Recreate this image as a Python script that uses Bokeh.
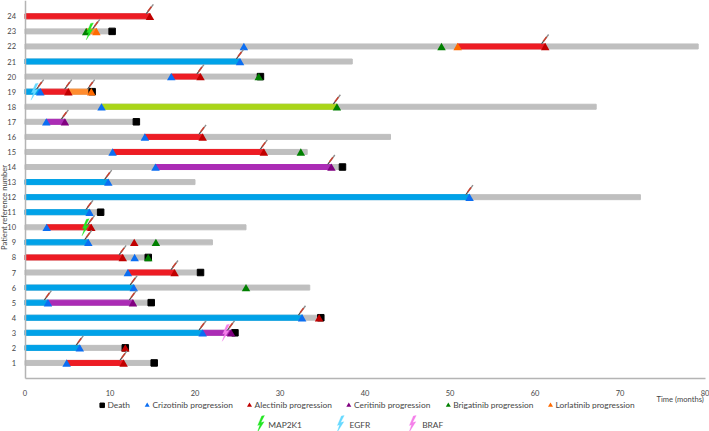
from bokeh.plotting import figure
from bokeh.embed import file_html
from bokeh.resources import INLINE
from bokeh.models import Range1d, FixedTicker
from bokeh.core.properties import value

# ---- data (months, patient number) ----
row_numbers = list(range(1, 25))
row_end = [15.2, 11.8, 24.7, 34.8, 14.85, 33.5, 20.65, 14.5, 22.05, 26.0, 8.9, 72.4,
           20.0, 37.35, 33.2, 43.0, 13.1, 67.2, 7.9, 27.7, 38.5, 79.2, 10.25, 14.7]

blue_rows = [2, 3, 4, 5, 6, 9, 11, 12, 13, 19, 21]
blue_end = [6.45, 20.9, 32.6, 2.7, 12.8, 7.45, 7.6, 52.3, 9.8, 1.8, 25.3]

red_rows = [1, 7, 8, 10, 15, 16, 19, 20, 22, 24]
red_start = [4.9, 12.1, 0, 2.55, 10.3, 14.1, 1.8, 17.2, 50.9, 0]
red_end = [11.6, 17.6, 11.5, 7.8, 28.1, 20.9, 5.1, 20.65, 61.2, 14.7]

purple_rows = [3, 5, 14, 17]
purple_start = [20.9, 2.7, 15.35, 2.5]
purple_end = [24.25, 12.7, 36.05, 4.7]

orange_rows = [19, 23]
orange_start = [5.1, 7.2]
orange_end = [7.8, 8.4]

lime_rows = [18]
lime_start = [9.0]
lime_end = [36.7]

death_rows = [1, 2, 3, 4, 5, 7, 8, 11, 14, 17, 19, 20, 23]
death_x = [15.2, 11.8, 24.7, 34.8, 14.85, 20.65, 14.5, 8.9, 37.35, 13.1, 7.9, 27.7, 10.25]

crizotinib_rows = [1, 2, 3, 4, 5, 6, 7, 8, 9, 10, 11, 12, 13, 14, 15, 16, 17, 18, 19, 20, 21, 22]
crizotinib_x = [4.9, 6.45, 20.9, 32.6, 2.7, 12.8, 12.1, 12.9, 7.45, 2.55, 7.6, 52.3, 9.8, 15.35,
                10.3, 14.1, 2.5, 9.0, 1.8, 17.2, 25.3, 25.75]
alectinib_rows = [1, 2, 4, 7, 8, 9, 10, 15, 16, 19, 20, 22, 24]
alectinib_x = [11.6, 11.8, 34.6, 17.6, 11.5, 12.85, 7.8, 28.1, 20.9, 5.1, 20.65, 61.2, 14.7]
ceritinib_rows = [3, 5, 14, 17]
ceritinib_x = [24.25, 12.7, 36.05, 4.7]
brigatinib_rows = [6, 8, 9, 15, 18, 20, 22, 23]
brigatinib_x = [26.0, 14.5, 15.4, 32.45, 36.7, 27.5, 49.0, 7.2]
lorlatinib_rows = [19, 22, 23]
lorlatinib_x = [7.8, 50.9, 8.4]

syringe_rows = [1, 2, 3, 3, 4, 5, 5, 6, 7, 8, 9, 10, 11, 12, 13, 14, 15, 16, 17, 18,
                19, 19, 19, 20, 21, 22, 23, 24]
syringe_x = [11.6, 6.45, 20.9, 24.25, 32.6, 2.7, 12.7, 12.8, 17.6, 11.5, 7.45, 7.8, 7.6,
             52.3, 9.8, 36.05, 28.1, 20.9, 4.7, 36.7, 1.8, 5.1, 7.8, 20.65, 25.3, 61.2, 8.4, 14.7]

map2k1_rows = [10, 23]
map2k1_x = [7.2, 7.7]
egfr_rows = [19]
egfr_x = [1.2]
braf_rows = [3]
braf_x = [23.7]

x_ticks = [0, 10, 20, 30, 40, 50, 60, 70, 80]
legend_row1 = ["Death", "Crizotinib progression", "Alectinib progression", "Ceritinib progression",
               "Brigatinib progression", "Lorlatinib progression"]
legend_row2 = ["MAP2K1", "EGFR", "BRAF"]

# ---- page geometry ----
W, H = 709, 431
PX = 8.5      # pixels per month
PY = 15.07    # pixels per row
X0 = 24.5     # page x of month 0
Y0 = 377.5    # page y of row 0


def dx(px):
    return (px - X0) / PX


def dy(py):
    return (Y0 - py) / PY


TEXT = "#464646"
FONT = "Lato"

p = figure(width=W, height=H, output_backend="svg", toolbar_location=None,
           x_range=Range1d(dx(0), dx(W)), y_range=Range1d(dy(H), dy(0)),
           min_border=0, min_border_left=0, min_border_right=0, min_border_top=0, min_border_bottom=0)
p.outline_line_color = None
p.grid.visible = False

ax = p.xaxis[0]
ax.fixed_location = 0
ax.bounds = (0, 80)
ax.ticker = FixedTicker(ticks=x_ticks)
ay = p.yaxis[0]
ay.fixed_location = 0
ay.bounds = (0, 26)
ay.ticker = FixedTicker(ticks=row_numbers)
for a in (ax, ay):
    a.axis_line_color = "#b4b4b4"
    a.axis_line_width = 1.5
    a.major_tick_line_color = None
    a.minor_tick_line_color = None
    a.major_label_text_font = FONT
    a.major_label_text_font_size = "7.5px"
    a.major_label_text_color = TEXT
ax.major_label_standoff = 6
ay.major_label_standoff = 3

BAR = 5 / PY
p.hbar(y=row_numbers, left=0, right=row_end, height=BAR, color="#bfbfbf")
p.hbar(y=blue_rows, left=0, right=blue_end, height=BAR, color="#00a2e8")
p.hbar(y=red_rows, left=red_start, right=red_end, height=BAR, color="#ed1c24")
p.hbar(y=purple_rows, left=purple_start, right=purple_end, height=BAR, color="#ab2cb5")
p.hbar(y=orange_rows, left=orange_start, right=orange_end, height=BAR, color="#ff8c2e")
p.hbar(y=lime_rows, left=lime_start, right=lime_end, height=BAR, color="#a9d518")

p.scatter(death_x, death_rows, marker="square", size=6.5, color="#000000")

TRI = 8.5
OFF = -1.3 / PY
for xs, rows, col in [(crizotinib_x, crizotinib_rows, "#0b6ef2"),
                      (alectinib_x, alectinib_rows, "#c00000"),
                      (ceritinib_x, ceritinib_rows, "#800080"),
                      (brigatinib_x, brigatinib_rows, "#008000"),
                      (lorlatinib_x, lorlatinib_rows, "#ff6a00")]:
    p.scatter(xs, [r + OFF for r in rows], marker="triangle", size=TRI, color=col, line_width=0)

# syringes: a short tilted stroke above each progression mark
x_pt = [x - 3.6 / PX for x in syringe_x]
y_pt = [r + 2.6 / PY for r in syringe_rows]
x_a = [x - 2.0 / PX for x in syringe_x]
y_a = [r + 5.0 / PY for r in syringe_rows]
x_b = [x + 1.4 / PX for x in syringe_x]
y_b = [r + 9.6 / PY for r in syringe_rows]
x_c = [x + 3.4 / PX for x in syringe_x]
y_c = [r + 12.0 / PY for r in syringe_rows]
p.segment(x_pt, y_pt, x_c, y_c, line_color="#8f8f8f", line_width=1.4)
p.segment(x_a, y_a, x_b, y_b, line_color="#c8402f", line_width=1.5)
p.segment(x_pt, y_pt, x_a, y_a, line_color="#404040", line_width=0.9)

# resistance-mutation bolts
BOLT = [(3.0, 8.5), (-0.6, 1.5), (2.6, 2.3), (-4.2, -8.5), (-1.6, -0.8), (-3.8, -1.4), (0.2, 8.0)]


def bolts(xs, rows, col):
    bx = [[x + a / PX for a, b in BOLT] for x in xs]
    by = [[r + b / PY for a, b in BOLT] for r in rows]
    p.patches(bx, by, fill_color=col, line_color=col, line_width=0.3)


bolts(map2k1_x, map2k1_rows, "#22e622")
bolts(egfr_x, egfr_rows, "#66d9ff")
bolts(braf_x, braf_rows, "#f57fea")

# ---- legend (page pixel layout) ----
LEG1_Y = 404.8
LEG2_Y = 424.0
LEG_FS = "8.4px"


def leg_text(px, py, t):
    p.text([dx(px)], [dy(py)], text=[t], text_font=value(FONT), text_font_size=LEG_FS,
           text_color=TEXT, text_baseline="middle", text_align="left")


p.scatter([dx(101.7)], [dy(LEG1_Y)], marker="square", size=4.5, color="#000000")
leg_mark = [(146.7, "#0b6ef2"), (249.0, "#c00000"), (348.3, "#800080"), (447.8, "#008000"), (550.0, "#ff6a00")]
for (mx, col) in leg_mark:
    p.scatter([dx(mx)], [dy(LEG1_Y)], marker="triangle", size=5, color=col, line_width=0)
for tx, t in zip([107.0, 152.0, 254.0, 353.5, 452.7, 555.0], legend_row1):
    leg_text(tx, LEG1_Y, t)

for (bx, col) in [(261.0, "#22e622"), (340.7, "#66d9ff"), (412.7, "#f57fea")]:
    bolts([dx(bx)], [dy(LEG2_Y - 0.5)], col)
for tx, t in zip([267.7, 349.0, 421.7], legend_row2):
    leg_text(tx, LEG2_Y, t)

p.text([dx(656)], [dy(398)], text=["Time (months)"], text_font=value(FONT), text_font_size="7.6px",
       text_color=TEXT, text_baseline="middle", text_align="left")
p.text([dx(3.5)], [dy(207)], text=["Patient reference number"], text_font=value(FONT),
       text_font_size="7.6px", text_color=TEXT, text_baseline="middle", text_align="center",
       angle=90, angle_units="deg")

open("out.html", "w").write(file_html(p, INLINE))
